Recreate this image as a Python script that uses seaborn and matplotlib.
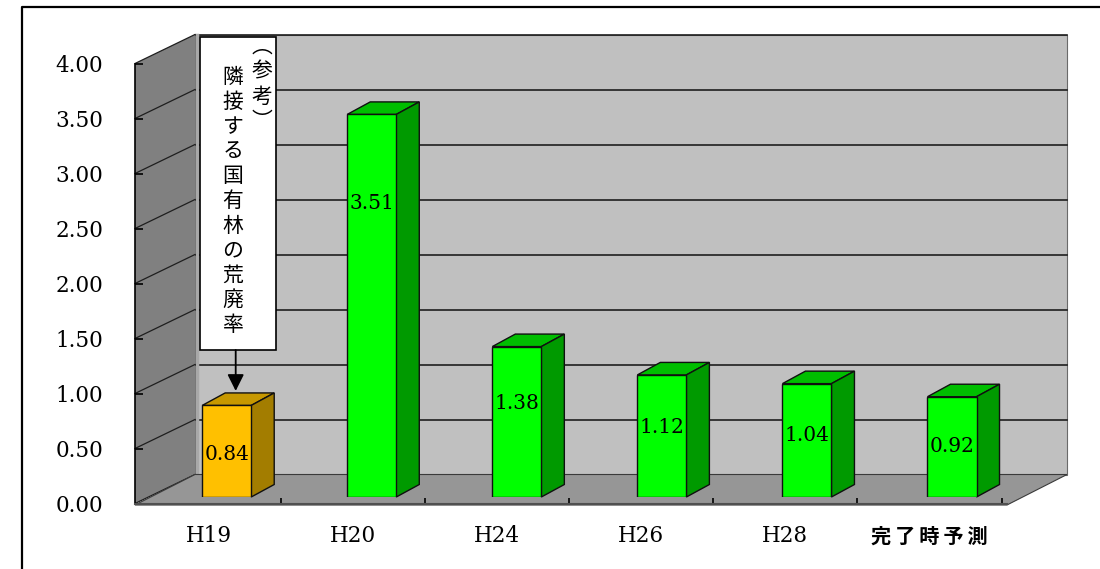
import numpy as np
import pandas as pd
import matplotlib
matplotlib.use("Agg")
import matplotlib.pyplot as plt
import seaborn as sns
from matplotlib.patches import Polygon, Rectangle, FancyArrowPatch
from matplotlib.lines import Line2D

# ---------------- data ----------------
categories = ["H19", "H20", "H24", "H26", "H28", "完了時予測"]
values = [0.84, 3.51, 1.38, 1.12, 1.04, 0.92]
y_ticks = [0.0, 0.5, 1.0, 1.5, 2.0, 2.5, 3.0, 3.5, 4.0]
note_title = "︵参考︶"
note_body = "隣接する国有林の荒廃率"

# ---------------- styles ----------------
front_colors = ["#FFC000", "#00FF00", "#00FF00", "#00FF00", "#00FF00", "#00FF00"]
side_colors = ["#A37D00", "#009A00", "#009A00", "#009A00", "#009A00", "#009A00"]
top_colors = ["#C79800", "#00BE00", "#00BE00", "#00BE00", "#00BE00", "#00BE00"]

plt.rcParams["font.family"] = ["DejaVu Serif"]

W, H = 1100, 569
fig = plt.figure(figsize=(W / 100, H / 100), dpi=100)
fig.patch.set_facecolor("white")


def rect(l, t, r, b):
    return [l / W, 1 - b / H, (r - l) / W, (b - t) / H]


# front plane axes (ticks, labels)
ax = fig.add_axes(rect(135, 63.5, 1007, 503.5))
ax.set_xlim(-0.51, 5.537)
ax.set_ylim(0, 4)
ax.patch.set_visible(False)
ax.set_zorder(1)

# bar plane axes (slightly deeper into the box)
pitch = 145.06
axb = fig.add_axes(rect(226.7 - 0.5 * pitch, 497 - 436, 226.7 + 5.5 * pitch, 497))
axb.set_zorder(2)

toFig = fig.transFigure.inverted()


def disp(axis, x, y, dx=0.0, dy=0.0):
    p = axis.transData.transform((x, y))
    return tuple(toFig.transform((p[0] + dx, p[1] + dy)))


# ---------------- 3D box walls ----------------
D = (60, 29)
x0, x1 = ax.get_xlim()
back = Polygon([disp(ax, x0, 0, *D), disp(ax, x1, 0, *D), disp(ax, x1, 4, *D), disp(ax, x0, 4, *D)],
               closed=True, transform=fig.transFigure, fc="#C0C0C0", ec="#6a6a6a", lw=0.8, zorder=-3)
side = Polygon([disp(ax, x0, 0), disp(ax, x0, 4), disp(ax, x0, 4, *D), disp(ax, x0, 0, *D)],
               closed=True, transform=fig.transFigure, fc="#808080", ec="none", zorder=-2.5)
floor = Polygon([disp(ax, x0, 0, 0, -1.5), disp(ax, x1, 0, 0, -1.5), disp(ax, x1, 0, *D), disp(ax, x0, 0, *D)],
                closed=True, transform=fig.transFigure, fc="#969696", ec="#3a3a3a", lw=0.8, zorder=-2)
for p in (back, side, floor):
    fig.add_artist(p)

(cx0, cy0), (cx1, cy1) = disp(ax, x0, 0, D[0] + 2, D[1]), disp(ax, x0, 4, D[0] + 2, D[1])
fig.add_artist(Line2D([cx0, cx1], [cy0, cy1], transform=fig.transFigure, color="#A8A8A8", lw=2.5, zorder=-2.4))

for v in y_ticks:
    if v > 0:
        a, b = disp(ax, x0, v, *D), disp(ax, x1, v, *D)
        fig.add_artist(Line2D([a[0], b[0]], [a[1], b[1]], transform=fig.transFigure,
                              color="#1e1e1e", lw=1.2, zorder=-2.8))
    a, b = disp(ax, x0, v), disp(ax, x0, v, *D)
    fig.add_artist(Line2D([a[0], b[0]], [a[1], b[1]], transform=fig.transFigure,
                          color="#1e1e1e", lw=0.9, zorder=-2.3))

# ---------------- bars ----------------
df = pd.DataFrame({"category": categories, "value": values})
sns.barplot(data=df, x="category", y="value", hue="category", palette=front_colors,
            width=0.338, errorbar=None, legend=False, saturation=1,
            edgecolor="#101010", linewidth=1.0, ax=axb)
axb.set_xlim(-0.5, 5.5)
axb.set_ylim(0, 4)
axb.axis("off")

bars = sorted(axb.patches, key=lambda p: p.get_x())
dx, dy = 23, 12.5
for i, p in enumerate(bars):
    x, w, h = p.get_x(), p.get_width(), p.get_height()
    top = Polygon([disp(axb, x, h), disp(axb, x + w, h), disp(axb, x + w, h, dx, dy), disp(axb, x, h, dx, dy)],
                  closed=True, transform=fig.transFigure, fc=top_colors[i], ec="#101010", lw=1.0,
                  zorder=0.9, clip_on=False)
    sd = Polygon([disp(axb, x + w, 0), disp(axb, x + w, h), disp(axb, x + w, h, dx, dy), disp(axb, x + w, 0, dx, dy)],
                 closed=True, transform=fig.transFigure, fc=side_colors[i], ec="#101010", lw=1.0,
                 zorder=0.9, clip_on=False)
    axb.add_patch(top)
    axb.add_patch(sd)
    axb.text(x + w / 2, 0.86 * h - 0.33, f"{h:.2f}", ha="center", va="center",
             fontsize=14.5, family="DejaVu Serif", color="black", zorder=5)

# ---------------- axes ticks ----------------
for s in ("top", "right"):
    ax.spines[s].set_visible(False)
ax.spines["left"].set_color("black")
ax.spines["left"].set_linewidth(1.2)
ax.spines["bottom"].set_color("#505050")
ax.spines["bottom"].set_linewidth(1.5)

ax.set_yticks(y_ticks, [f"{v:.2f}" for v in y_ticks])
ax.tick_params(axis="y", direction="in", length=5.5, width=1.2, pad=23, labelsize=15.5, colors="black")

ax.set_xticks(range(len(categories)), categories[:-1] + ["\u2009".join(categories[-1])])
ax.set_xticks(np.arange(0.5, len(categories), 1.0), minor=True)
ax.tick_params(axis="x", which="major", length=0, pad=23.4, labelsize=15.5)
ax.tick_params(axis="x", which="minor", direction="in", length=4.3, width=1.2, color="black")
xl = ax.get_xticklabels()
for lab in xl:
    lab.set_verticalalignment("center")
xl[-1].set_fontfamily(["Noto Sans CJK JP", "DejaVu Sans"])
xl[-1].set_fontweight("bold")
xl[-1].set_fontsize(14.5)

# ---------------- outer frame ----------------
fig.add_artist(Line2D([22 / W, 22 / W, 1.0], [0.0, 1 - 7 / H, 1 - 7 / H], transform=fig.transFigure,
                      color="black", lw=1.6, zorder=10))

# ---------------- note box + arrow ----------------
fig.add_artist(Rectangle((200 / W, 1 - 350 / H), 76 / W, 313 / H, transform=fig.transFigure,
                         fc="white", ec="black", lw=1.2, zorder=6))
for i, ch in enumerate(note_title):
    fig.text(262 / W, 1 - (47 + i * 24.8) / H, ch, ha="center", va="center", fontsize=15,
             family="Noto Sans CJK JP", zorder=7)
for i, ch in enumerate(note_body):
    fig.text(233 / W, 1 - (77 + i * 24.8) / H, ch, ha="center", va="center", fontsize=15,
             family="Noto Sans CJK JP", zorder=7)

b0 = bars[0]
tip = disp(axb, b0.get_x() + b0.get_width() / 2, b0.get_height(), 9, 14.5)
arrow = FancyArrowPatch((tip[0], 1 - 350 / H), tip, transform=fig.transFigure,
                        arrowstyle="-|>,head_length=0.4,head_width=0.2", mutation_scale=25,
                        color="black", lw=1.3, shrinkA=0, shrinkB=0, zorder=7)
fig.add_artist(arrow)

fig.savefig("out.png", dpi=100)
